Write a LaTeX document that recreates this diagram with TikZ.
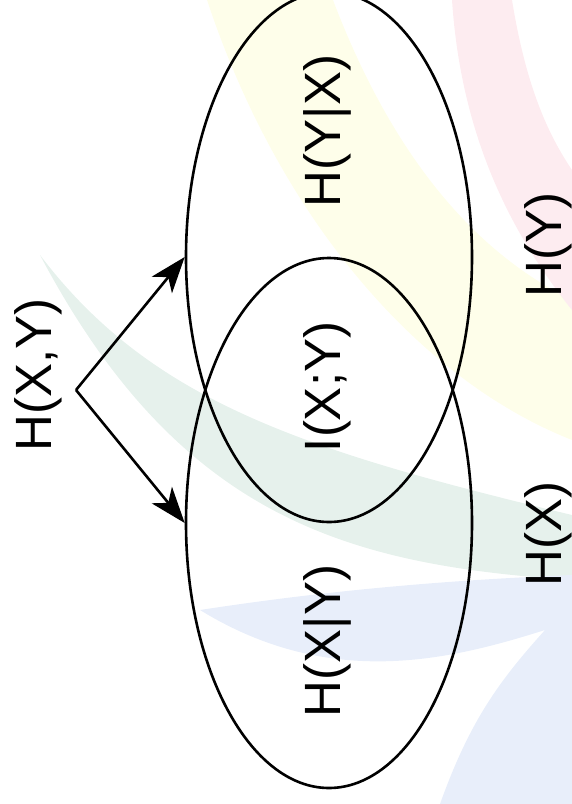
\documentclass[tikz,border=0pt]{standalone}
\usepackage{fontspec}
\setmainfont{Liberation Sans}
\usetikzlibrary{arrows.meta,shapes.geometric}
\definecolor{wmyellow}{RGB}{254,254,234}
\definecolor{wmred}{RGB}{253,236,240}
\definecolor{wmgreen}{RGB}{230,241,236}
\definecolor{wmblue}{RGB}{232,238,250}
\tikzset{
  setbox/.style={ellipse, draw, line width=2.6pt, minimum width=286pt, minimum height=530pt, inner sep=0pt},
  lbl/.style={rotate=90, inner sep=0pt, font=\fontsize{51}{60}\selectfont},
  link/.style={line width=2.6pt, -{Stealth[length=36pt,width=26pt,inset=10pt]}}
}
\begin{document}
\begin{tikzpicture}[x=1pt,y=-1pt]
\useasboundingbox (0,0) rectangle (572,804);
% watermark
\fill[wmyellow] (207,0) -- (333,0) .. controls (390,150) and (470,250) .. (572,300)
  -- (572,440) .. controls (420,380) and (280,220) .. (207,0) -- cycle;
\fill[wmred] (452,0) -- (512,0) .. controls (525,80) and (545,130) .. (572,170)
  -- (572,310) .. controls (500,220) and (460,120) .. (452,0) -- cycle;
\fill[wmgreen] (40,255) .. controls (150,400) and (300,450) .. (572,515)
  -- (572,580) .. controls (350,565) and (180,520) .. (40,255) -- cycle;
\fill[wmblue] (200,610) .. controls (330,590) and (450,580) .. (572,575)
  -- (572,804) -- (440,804) .. controls (470,720) and (500,680) .. (545,630)
  .. controls (450,660) and (330,690) .. (200,610) -- cycle;
% sets
\node[setbox] (HY) at (329,257) {};
\node[setbox] (HX) at (329,523) {};
% labels
\node[lbl] (hxy) at (38,375) {H(X,Y)};
\node[lbl] (hyx) at (327,131) {H(Y|X)};
\node[lbl] (ixy) at (327,387) {I(X;Y)};
\node[lbl] (hxgy) at (327,641) {H(X|Y)};
\node[lbl] (hy) at (548,245) {H(Y)};
\node[lbl] (hx) at (548,534) {H(X)};
% arrows
\coordinate (apex) at (76,390);
\draw[link] (apex) -- (HY.west);
\draw[link] (apex) -- (HX.west);
\end{tikzpicture}
\end{document}
